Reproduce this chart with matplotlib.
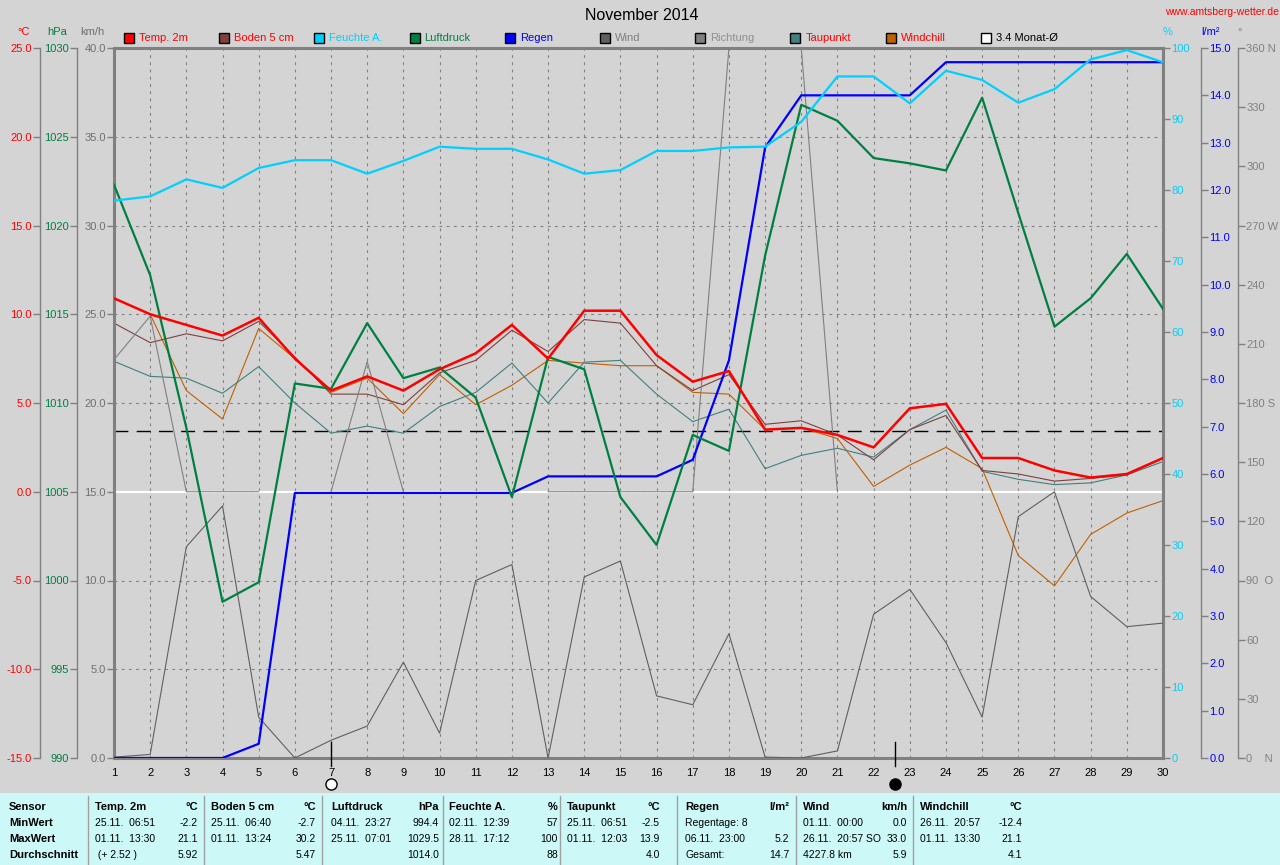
import numpy as np
import matplotlib
matplotlib.use('Agg')
import matplotlib.pyplot as plt
import matplotlib.transforms as mtransforms
from matplotlib.patches import Rectangle
from matplotlib.lines import Line2D
from matplotlib.ticker import FuncFormatter

plt.rcParams['font.family'] = ['Liberation Sans', 'DejaVu Sans']
plt.rcParams['font.size'] = 8
plt.rcParams['axes.unicode_minus'] = False

# --- daily values, November 2014 ---
days = np.arange(1, 31)
temp_2m = [10.9, 10.0, 9.4, 8.8, 9.8, 7.5, 5.7, 6.5, 5.7, 6.9, 7.8, 9.4, 7.5, 10.2, 10.2,
           7.7, 6.2, 6.8, 3.5, 3.6, 3.2, 2.5, 4.7, 4.95, 1.9, 1.9, 1.2, 0.8, 1.0, 1.9]
soil_5cm = [9.5, 8.4, 8.9, 8.5, 9.6, 7.6, 5.5, 5.5, 4.9, 6.7, 7.4, 9.1, 7.9, 9.7, 9.5,
            7.1, 5.7, 6.6, 3.8, 4.0, 3.2, 1.8, 3.5, 4.3, 1.2, 1.0, 0.6, 0.75, 0.95, 1.9]
humidity = [78.5, 79.1, 81.5, 80.3, 83.1, 84.2, 84.2, 82.3, 84.1, 86.1, 85.8, 85.8, 84.3, 82.3, 82.8,
            85.5, 85.5, 86.0, 86.1, 89.6, 96.0, 96.0, 92.2, 96.8, 95.5, 92.3, 94.2, 98.4, 99.7, 98.0]
pressure = [1022.3, 1017.2, 1008.6, 998.8, 999.9, 1011.1, 1010.8, 1014.5, 1011.4, 1012.0,
            1010.3, 1004.7, 1012.6, 1011.9, 1004.7, 1002.0, 1008.2, 1007.3, 1018.3, 1026.8,
            1025.9, 1023.8, 1023.5, 1023.1, 1027.2, 1020.7, 1014.3, 1015.9, 1018.4, 1015.3]
rain_sum = [0, 0, 0, 0, 0.3, 5.6, 5.6, 5.6, 5.6, 5.6, 5.6, 5.6, 5.95, 5.95, 5.95,
            5.95, 6.3, 8.4, 12.9, 14.0, 14.0, 14.0, 14.0, 14.7, 14.7, 14.7, 14.7, 14.7, 14.7, 14.7]
wind = [0.05, 0.2, 11.9, 14.2, 2.3, 0.0, 1.0, 1.8, 5.4, 1.4, 10.0, 10.9, 0.0, 10.2, 11.1,
        3.5, 3.0, 7.0, 0.05, 0.0, 0.4, 8.1, 9.5, 6.5, 2.3, 13.6, 15.0, 9.1, 7.4, 7.6]
nan = np.nan
direction = [202, 224, 135, 135, 135, nan, 135, 201, 135, nan, nan, nan, 135, 135, 135,
             135, 135, 360, 360, 360, 135, nan, nan, nan, nan, nan, nan, nan, nan, nan]
dewpoint = [7.35, 6.5, 6.4, 5.55, 7.05, 5.0, 3.3, 3.7, 3.3, 4.8, 5.6, 7.25, 5.0, 7.3, 7.4,
            5.5, 3.95, 4.65, 1.3, 2.05, 2.45, 1.95, 3.5, 4.6, 1.15, 0.7, 0.4, 0.5, 0.95, 1.7]
windchill = [10.9, 10.0, 5.7, 4.1, 9.2, 7.5, 5.6, 6.4, 4.4, 6.6, 4.9, 6.0, 7.4, 7.25, 7.1,
             7.1, 5.6, 5.5, 3.5, 3.6, 3.0, 0.3, 1.5, 2.5, 1.3, -3.6, -5.3, -2.4, -1.2, -0.5]
month_avg = 3.4
full_moon = [7.0]
new_moon = [22.6]

legend_names = ['Temp. 2m', 'Boden 5 cm', 'Feuchte A.', 'Luftdruck', 'Regen', 'Wind',
                'Richtung', 'Taupunkt', 'Windchill', '3.4 Monat-Ø']
legend_fill = ['#ff0000', '#804040', '#00d0ff', '#008040', '#0000ff', '#606060',
               '#808080', '#408080', '#c06000', 'white']
legend_text = ['#ff0000', '#ff0000', '#00d0ff', '#008040', '#0000ff', '#808080',
               '#909090', '#ff0000', '#ff0000', 'black']

row_names = ['Sensor', 'MinWert', 'MaxWert', 'Durchschnitt']
tab_names = ['Temp. 2m', 'Boden 5 cm', 'Luftdruck', 'Feuchte A.', 'Taupunkt', 'Regen', 'Wind', 'Windchill']
tab_units = ['°C', '°C', 'hPa', '%', '°C', 'l/m²', 'km/h', '°C']
tab_min_at = ['25.11.  06:51', '25.11.  06:40', '04.11.  23:27', '02.11.  12:39',
              '25.11.  06:51', 'Regentage: 8', '01.11.  00:00', '26.11.  20:57']
tab_min = ['-2.2', '-2.7', '994.4', '57', '-2.5', '', '0.0', '-12.4']
tab_max_at = ['01.11.  13:30', '01.11.  13:24', '25.11.  07:01', '28.11.  17:12',
              '01.11.  12:03', '06.11.  23:00', '26.11.  20:57 SO', '01.11.  13:30']
tab_max = ['21.1', '30.2', '1029.5', '100', '13.9', '5.2', '33.0', '21.1']
tab_avg_at = [' (+ 2.52 )', '', '', '', '', 'Gesamt:', '4227.8 km', '']
tab_avg = ['5.92', '5.47', '1014.0', '88', '4.0', '14.7', '5.9', '4.1']

W, H = 1280, 865
BG = '#d4d4d4'
GRAY = '#808080'


def fx(x):
    return x / W


def fy(y):
    return 1 - y / H


fig = plt.figure(figsize=(12.8, 8.65), dpi=100, facecolor=BG)
ax = fig.add_axes([fx(114), fy(758), 1049 / W, 710 / H], facecolor=BG)
ax.set_xlim(1, 30)
ax.set_ylim(-15, 25)


def twin(lim, ticks, side, pos, color, fmt, spine=True):
    t = ax.twinx()
    t.set_ylim(*lim)
    t.set_yticks(ticks)
    for s in t.spines.values():
        s.set_visible(False)
    if side == 'left':
        t.yaxis.tick_left()
    else:
        t.yaxis.tick_right()
    t.spines[side].set_position(('axes', pos))
    t.spines[side].set_visible(spine)
    t.spines[side].set_color(GRAY)
    t.spines[side].set_linewidth(1)
    t.tick_params(axis='y', colors=GRAY, labelcolor=color, length=5, width=1, pad=1, labelsize=8)
    t.yaxis.set_major_formatter(fmt)
    return t


dir_names = {360: '360 N', 270: '270 W', 180: '180 S', 90: '90  O', 0: '0    N'}

ax_dir = twin((0, 360), np.arange(0, 361, 30), 'right', 1 + 75 / 1049, GRAY,
              FuncFormatter(lambda v, p: dir_names.get(int(round(v)), '%d' % v)))
ax_wind = twin((0, 40), np.arange(0, 41, 5), 'left', 0, '#707070', '{x:.1f}', spine=False)
ax_rain = twin((0, 15), np.arange(0, 15.1, 1), 'right', 1 + 38 / 1049, '#0000ff', '{x:.1f}')
ax_p = twin((990, 1030), np.arange(990, 1031, 5), 'left', -37 / 1049, '#008040', '{x:.0f}')
ax_t = twin((-15, 25), np.arange(-15, 26, 5), 'left', -74 / 1049, '#ff0000', '{x:.1f}')
ax_h = twin((0, 100), np.arange(0, 101, 10), 'right', 1, '#00d0ff', '{x:.0f}', spine=False)

# base axes: grid, frame, reference lines and thin temperature-like series
ax.set_xticks(days)
ax.set_yticks(np.arange(-15, 26, 5))
ax.tick_params(axis='y', left=False, right=False, labelleft=False, labelright=False)
ax.tick_params(axis='x', length=0, labelsize=8, pad=7, labelcolor='black')
ax.grid(True, color=GRAY, linestyle=(0, (2.5, 4)), linewidth=0.8)
for s in ax.spines.values():
    s.set_color(GRAY)
    s.set_linewidth(2.2)
ax.axhline(0, color='white', lw=1.6, zorder=1.8)
ax.axhline(month_avg, color='black', lw=1, dashes=(10, 6), zorder=1.8)

ax.plot(days, windchill, color='#c06000', lw=0.8)
ax.plot(days, dewpoint, color='#408080', lw=0.8)
ax.plot(days, soil_5cm, color='#804040', lw=0.8)
ax_dir.plot(days, direction, color=GRAY, lw=0.8)
ax_wind.plot(days, wind, color='#606060', lw=0.8)
ax_rain.plot(days, rain_sum, color='#0000ff', lw=1.6)
ax_p.plot(days, pressure, color='#008040', lw=1.6)
ax_t.plot(days, temp_2m, color='#ff0000', lw=1.8)
ax_h.plot(days, humidity, color='#00d0ff', lw=1.6)

# moon phases below the x axis
trans = mtransforms.blended_transform_factory(ax.transData, ax.transAxes)
for d in full_moon + new_moon:
    ax.plot([d, d], [0.022, -0.011], color='black', lw=1, transform=trans, clip_on=False, zorder=3)
ax.plot(full_moon, [-0.036] * len(full_moon), 'o', ms=8, mfc='white', mec='black', mew=1,
        transform=trans, clip_on=False, zorder=3)
ax.plot(new_moon, [-0.036] * len(new_moon), 'o', ms=8, mfc='black', mec='black', mew=1,
        transform=trans, clip_on=False, zorder=3)

# titles and unit labels
fig.text(fx(642), fy(15), 'November 2014', ha='center', va='center', fontsize=11.5)
fig.text(fx(1279), fy(12), 'www.amtsberg-wetter.de', ha='right', va='center', fontsize=7.5, color='#ff0000')
for x, txt, col in [(24, '°C', '#ff0000'), (57, 'hPa', '#008040'), (92, 'km/h', '#707070'),
                    (1168, '%', '#00d0ff'), (1210, 'l/m²', '#0000ff'), (1240, '°', GRAY)]:
    fig.text(fx(x), fy(32), txt, ha='center', va='center', fontsize=8, color=col)

# legend row
for i, (name, fill, tcol) in enumerate(zip(legend_names, legend_fill, legend_text)):
    x0 = 124 + i * 95.2
    fig.add_artist(Rectangle((fx(x0), fy(43)), 10 / W, 10 / H, transform=fig.transFigure,
                             facecolor=fill, edgecolor='black', lw=1))
    fig.text(fx(x0 + 15), fy(38), name, ha='left', va='center', fontsize=8, color=tcol)

# statistics table
fig.add_artist(Rectangle((0, 0), 1, fy(793), transform=fig.transFigure,
                         facecolor='#ccf8f8', edgecolor='none'))
for x in [88, 204, 322, 443, 560, 677, 796, 913]:
    fig.add_artist(Line2D([fx(x), fx(x)], [fy(796), 0], transform=fig.transFigure,
                          color='#a0a0a0', lw=1))
rows_y = [807, 823, 839, 855]
for name, y in zip(row_names, rows_y):
    fig.text(fx(9), fy(y), name, ha='left', va='center', fontsize=8, fontweight='bold')
col_left = [95, 211, 331, 449, 567, 685, 803, 920]
col_right = [198, 316, 439, 558, 660, 789, 907, 1022]
for i in range(len(tab_names)):
    xl, xr = fx(col_left[i]), fx(col_right[i])
    fig.text(xl, fy(rows_y[0]), tab_names[i], ha='left', va='center', fontsize=8, fontweight='bold')
    fig.text(xr, fy(rows_y[0]), tab_units[i], ha='right', va='center', fontsize=8, fontweight='bold')
    for y, at, val in [(rows_y[1], tab_min_at[i], tab_min[i]),
                       (rows_y[2], tab_max_at[i], tab_max[i]),
                       (rows_y[3], tab_avg_at[i], tab_avg[i])]:
        fig.text(xl, fy(y), at, ha='left', va='center', fontsize=7.5)
        fig.text(xr, fy(y), val, ha='right', va='center', fontsize=7.5)

fig.savefig('out.png', dpi=100, facecolor=BG)
